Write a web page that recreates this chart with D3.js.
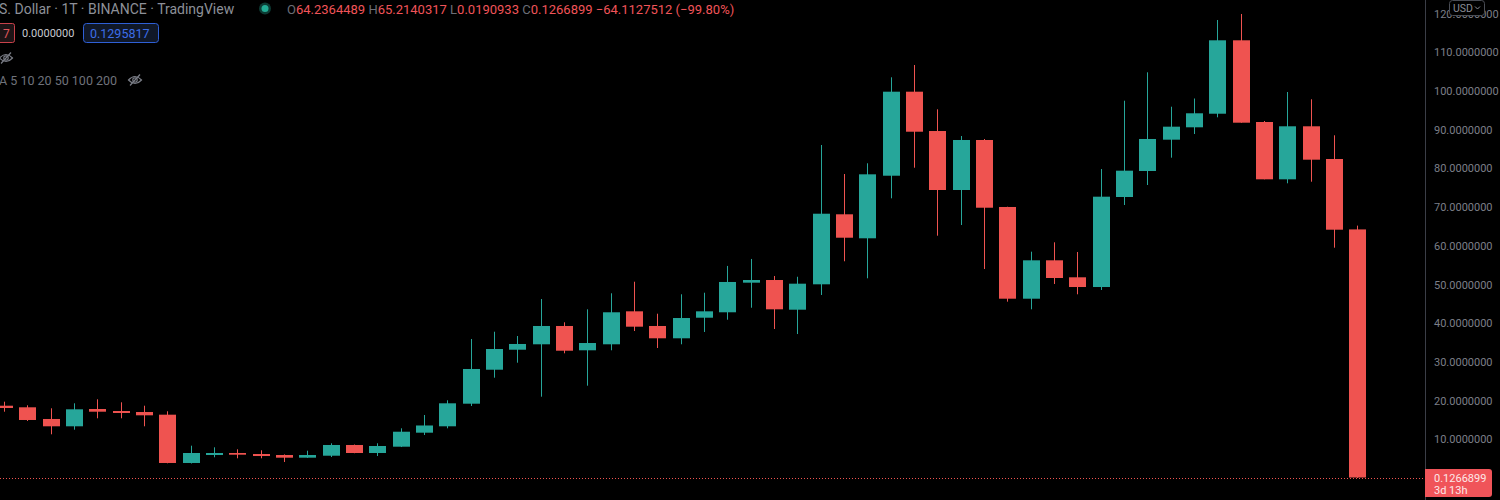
<!DOCTYPE html>
<html>
<head>
<meta charset="utf-8">
<script src="https://cdn.jsdelivr.net/npm/d3@7"></script>
<style>
  body { margin: 0; background: #000; }
  svg { display: block; font-family: Roboto, "Noto Sans", sans-serif; }
</style>
</head>
<body>
<div id="chart"></div>
<script>
// candle data (oldest first)
var opens  = [18.68, 18.27, 15.25, 13.36, 17.83, 17.31, 17.05, 16.36, 3.88, 5.94,
              6.46, 6.20, 5.94, 5.25, 5.76, 8.53, 6.46, 8.09, 11.71, 13.36,
              19.20, 27.98, 33.15, 34.55, 39.28, 33.00, 34.55, 43.07, 39.28, 36.10,
              41.42, 42.82, 50.47, 51.16, 43.49, 50.05, 68.14, 61.94, 78.11, 99.82,
              89.66, 74.42, 87.34, 70.03, 46.33, 56.25, 51.86, 49.35, 72.61, 79.33,
              87.42, 90.62, 94.13, 113.10, 91.99, 77.18, 90.88, 82.43, 64.2364489]
var highs  = [19.72, 18.79, 18.01, 19.30, 20.34, 19.56, 18.68, 17.24, 8.35, 7.93,
              7.42, 7.16, 6.10, 7.05, 8.97, 8.65, 8.97, 12.84, 16.28, 20.08,
              35.92, 37.80, 36.69, 46.25, 40.23, 43.59, 47.73, 50.72, 42.45, 47.47,
              47.88, 54.80, 56.60, 52.20, 52.00, 86.05, 78.55, 81.32, 103.54, 106.72,
              95.27, 88.37, 87.60, 70.10, 58.48, 60.90, 58.40, 79.84, 97.49, 104.83,
              95.94, 98.06, 118.35, 119.90, 92.25, 99.74, 97.86, 88.55, 65.2140317]
var lows   = [17.13, 14.73, 11.29, 12.48, 15.43, 15.43, 13.36, 3.80, 3.75, 5.35,
              5.09, 5.09, 4.13, 5.20, 5.43, 6.40, 5.68, 8.00, 11.11, 12.84,
              18.60, 25.92, 29.79, 21.01, 32.22, 23.85, 33.00, 37.98, 33.59, 34.55,
              37.73, 40.90, 44.00, 38.50, 37.20, 47.29, 56.00, 51.60, 72.27, 80.18,
              62.61, 65.37, 54.00, 45.56, 43.59, 50.13, 47.47, 48.58, 70.54, 75.71,
              82.77, 88.89, 93.20, 91.80, 77.18, 76.15, 76.56, 59.51, 0.0190933]
var closes = [18.09, 14.99, 13.36, 17.75, 17.13, 16.80, 16.20, 3.88, 6.46, 6.46,
              6.02, 5.68, 5.25, 5.94, 8.53, 6.46, 8.27, 11.96, 13.57, 19.30,
              28.17, 33.33, 34.63, 39.28, 32.89, 34.88, 42.82, 39.10, 36.10, 41.34,
              43.07, 50.65, 51.16, 43.59, 50.21, 68.29, 62.09, 78.47, 99.82, 89.48,
              74.42, 87.34, 69.84, 46.33, 56.25, 51.68, 49.35, 72.69, 79.41, 87.60,
              90.78, 94.24, 113.10, 91.81, 77.18, 90.88, 82.25, 64.16, 0.1266899]

var priceTicks = [10, 20, 30, 40, 50, 60, 70, 80, 90, 100, 110, 120]
var lastPrice = 0.1266899
var ohlcLabels = ["O", "H", "L", "C"]
var changeText = "\u221264.1127512 (\u221299.80%)"
var maPeriods = "A 5 10 20 50 100 200"

var width = 1500, height = 500
var axisX = 1425
var upColor = "#26a69a", downColor = "#ef5350"

var svg = d3.select("#chart").append("svg")
    .attr("width", width)
    .attr("height", height)
svg.append("rect").attr("width", width).attr("height", height).attr("fill", "#000")

var x = d3.scaleLinear().domain([0, opens.length - 1]).range([4, 1357.3])
var y = d3.scaleLinear().domain([0, 120]).range([478, 13.6])
var bodyW = 17

var candles = d3.range(opens.length).map(function(i){
    return {i: i, o: opens[i], h: highs[i], l: lows[i], c: closes[i]}
})

var plot = svg.append("g")
svg.append("clipPath").attr("id", "clip")
    .append("rect").attr("width", axisX).attr("height", height)
plot.attr("clip-path", "url(#clip)")

// last price dotted line
plot.append("line")
    .attr("x1", 0).attr("x2", axisX)
    .attr("y1", Math.round(y(lastPrice)) + 0.5).attr("y2", Math.round(y(lastPrice)) + 0.5)
    .attr("stroke", downColor)
    .attr("stroke-dasharray", "1,2")

var g = plot.selectAll(".candle").data(candles).enter().append("g")
g.append("line")
    .attr("x1", d => Math.round(x(d.i)) + 0.5)
    .attr("x2", d => Math.round(x(d.i)) + 0.5)
    .attr("y1", d => y(d.h))
    .attr("y2", d => y(d.l))
    .attr("stroke", d => d.c >= d.o ? upColor : downColor)
    .attr("stroke-width", 1)
g.append("rect")
    .attr("x", d => Math.round(x(d.i)) - 8)
    .attr("width", bodyW)
    .attr("y", d => y(Math.max(d.o, d.c)))
    .attr("height", d => Math.max(1, Math.abs(y(d.o) - y(d.c))))
    .attr("fill", d => d.c >= d.o ? upColor : downColor)

// price axis
svg.append("line")
    .attr("x1", axisX + 0.5).attr("x2", axisX + 0.5)
    .attr("y1", 0).attr("y2", height)
    .attr("stroke", "#3b3e47")

var yAxis = d3.axisRight(y)
    .tickValues(priceTicks)
    .tickFormat(d3.format(".7f"))
    .tickSize(0)
    .tickPadding(9)
var ag = svg.append("g").attr("transform", "translate(" + axisX + ",0)").call(yAxis)
ag.select(".domain").remove()
ag.selectAll("text")
    .attr("fill", "#7c7f88")
    .style("font-size", "11px")
    .style("font-family", "Roboto, sans-serif")

// USD button sits over the top label
svg.append("rect")
    .attr("x", 1449.5).attr("y", 0.5).attr("width", 35).attr("height", 15)
    .attr("rx", 3).attr("fill", "#000").attr("stroke", "#4a4d55")
svg.append("text")
    .attr("x", 1453).attr("y", 11.5)
    .attr("fill", "#8a8d96").style("font-size", "10.5px")
    .text("USD")
svg.append("path")
    .attr("d", "M1475,6.5 L1477.5,9 L1480,6.5")
    .attr("fill", "none").attr("stroke", "#8a8d96").attr("stroke-width", 1)

// last price label
svg.append("path")
    .attr("d", "M1425,469 H1489 Q1492,469 1492,472 V494 Q1492,497 1489,497 H1425 Z")
    .attr("fill", "#f05459")
svg.append("text")
    .attr("x", 1434).attr("y", 482)
    .attr("fill", "#fde8e8").style("font-size", "11px")
    .text(d3.format(".7f")(lastPrice))
svg.append("text")
    .attr("x", 1434).attr("y", 494)
    .attr("fill", "#fde8e8").style("font-size", "11px")
    .text("3d 13h")

// legend / header
svg.append("text")
    .attr("x", -1).attr("y", 14)
    .attr("fill", "#8d9098").style("font-size", "14px")
    .text("S. Dollar \u00b7 1T \u00b7 BINANCE \u00b7 TradingView")
svg.append("circle").attr("cx", 265).attr("cy", 8.5).attr("r", 6).attr("fill", "#0d3a33")
svg.append("circle").attr("cx", 265).attr("cy", 8.5).attr("r", 3.5).attr("fill", "#22ab94")

var lastVals = [opens[58], highs[58], lows[58], closes[58]]
var ohlc = svg.append("text").attr("x", 287).attr("y", 13.5).style("font-size", "13px")
ohlcLabels.forEach(function(k, i){
    ohlc.append("tspan").attr("fill", "#6b6e77").text(k)
    ohlc.append("tspan").attr("fill", "#f05459").text(d3.format(".7f")(lastVals[i]) + " ")
})
ohlc.append("tspan").attr("fill", "#f05459").text(changeText)

// second row
svg.append("rect").attr("x", -10.5).attr("y", 23.5).attr("width", 25).attr("height", 19)
    .attr("rx", 2).attr("fill", "#1e1416").attr("stroke", "#c9414a")
svg.append("text").attr("x", 3).attr("y", 37.5)
    .attr("fill", "#e0565d").style("font-size", "12px").text("7")
svg.append("text").attr("x", 22).attr("y", 37)
    .attr("fill", "#c8cad0").style("font-size", "11px").text("0.0000000")
svg.append("rect").attr("x", 83.5).attr("y", 23.5).attr("width", 75).attr("height", 19)
    .attr("rx", 3).attr("fill", "#101828").attr("stroke", "#2e5fd6")
svg.append("text").attr("x", 90).attr("y", 37.5)
    .attr("fill", "#3d6ee8").style("font-size", "12.5px").text("0.1295817")

// hidden-indicator eye icons
function eyeOff(cx, cy){
    var e = svg.append("g").attr("transform", "translate(" + cx + "," + cy + ")")
        .attr("fill", "none").attr("stroke", "#7a7d86").attr("stroke-width", 1.2)
    e.append("path").attr("d", "M-6.5,0 Q0,-7 6.5,0 Q0,7 -6.5,0 Z")
    e.append("circle").attr("r", 2.2)
    e.append("line").attr("x1", -5).attr("y1", 5.5).attr("x2", 5).attr("y2", -5.5)
}
eyeOff(6, 58)

svg.append("text").attr("x", -1).attr("y", 84.5)
    .attr("fill", "#6f727b").style("font-size", "12.5px").text(maPeriods)
eyeOff(135, 80)
</script>
</body>
</html>
